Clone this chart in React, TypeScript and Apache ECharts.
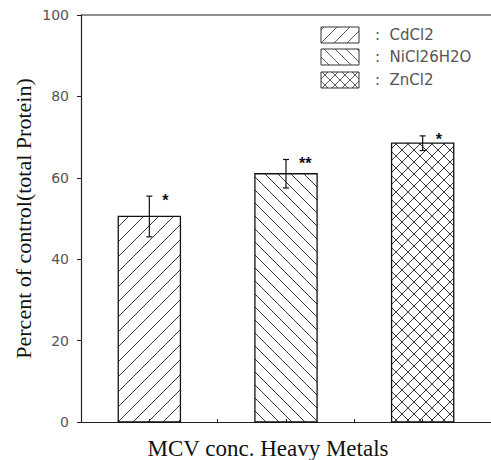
import React, { useEffect, useRef } from "react";
import * as echarts from "echarts";

const categories = ["CdCl2", "NiCl26H2O", "ZnCl2"];
const means = [50.5, 61, 68.5];
const errors = [5, 3.5, 1.8];
const stars = ["*", "**", "*"];
const patterns = ["/", "\\", "x"];
const yTicks = [0, 20, 40, 60, 80, 100];

const BAR_W = 0.455;

type Seg = { x1: number; y1: number; x2: number; y2: number };

function hatch(x0: number, y0: number, w: number, h: number, dir: string, s: number): Seg[] {
  const x1 = x0 + w;
  const y1 = y0 + h;
  const out: Seg[] = [];
  if (dir === "/" || dir === "x") {
    const cMin = Math.ceil((x0 + y0) / s) * s;
    for (let c = cMin; c <= x1 + y1; c += s) {
      const xa = Math.max(x0, c - y1);
      const xb = Math.min(x1, c - y0);
      if (xb - xa > 0.5) out.push({ x1: xa, y1: c - xa, x2: xb, y2: c - xb });
    }
  }
  if (dir === "\\" || dir === "x") {
    const cMin = Math.ceil((y0 - x1) / s) * s;
    for (let c = cMin; c <= y1 - x0; c += s) {
      const xa = Math.max(x0, y0 - c);
      const xb = Math.min(x1, y1 - c);
      if (xb - xa > 0.5) out.push({ x1: xa, y1: xa + c, x2: xb, y2: xb + c });
    }
  }
  return out;
}

function spacing(dir: string) {
  return dir === "x" ? 12 : dir === "/" ? 15 : 13;
}

export default function App() {
  const ref = useRef<HTMLDivElement>(null);
  useEffect(() => {
    if (!ref.current) return;
    const chart = echarts.init(ref.current, undefined, { renderer: "svg" });

    const data = categories.map((c, i) => [i, means[i], errors[i]]);

    const legendGraphics: any[] = [];
    const legX = 321, legW = 38, legH = 16;
    const legY = [27, 49, 72];
    categories.forEach((c, i) => {
      hatch(legX, legY[i], legW, legH, patterns[i], spacing(patterns[i]) - 2).forEach((sg) =>
        legendGraphics.push({ type: "line", shape: sg, style: { stroke: "#333", lineWidth: 0.8 } })
      );
      legendGraphics.push({
        type: "rect",
        shape: { x: legX, y: legY[i], width: legW, height: legH },
        style: { fill: "none", stroke: "#333", lineWidth: 1 },
      });
      legendGraphics.push({
        type: "text",
        x: 375,
        y: legY[i] + legH / 2,
        style: {
          text: ":  " + c,
          fill: "#555",
          font: "15px 'DejaVu Sans', sans-serif",
          textVerticalAlign: "middle",
        },
      });
    });

    chart.setOption({
      animation: false,
      grid: { left: 81, right: -4, top: 15, bottom: 38, containLabel: false },
      xAxis: {
        type: "value",
        min: -0.5,
        max: 2.5,
        interval: 0.5,
        axisLine: { show: true, onZero: false, lineStyle: { color: "#222", width: 1.2 } },
        axisTick: { show: true, inside: true, length: 3, lineStyle: { color: "#222" } },
        axisLabel: { show: false },
        splitLine: { show: false },
      },
      yAxis: {
        type: "value",
        min: 0,
        max: 100,
        interval: 20,
        name: "Percent of control(total Protein)",
        nameLocation: "middle",
        nameGap: 47,
        nameMoveOverlap: false,
        nameTextStyle: { fontFamily: "'Liberation Serif', serif", fontSize: 22, color: "#111" },
        axisLine: { show: true, onZero: false, lineStyle: { color: "#222", width: 1.2 } },
        axisTick: { show: true, length: 4, lineStyle: { color: "#222" } },
        axisLabel: {
          margin: 12,
          fontFamily: "'DejaVu Sans', sans-serif",
          fontSize: 14,
          color: "#555",
          formatter: (v: number) => (yTicks.includes(v) ? String(v) : ""),
        },
        splitLine: { show: false },
      },
      series: [
        {
          type: "custom",
          data,
          renderItem: (params: any, api: any) => {
            const i = params.dataIndex;
            const x = api.value(0);
            const v = api.value(1);
            const e = api.value(2);
            const base = api.coord([x, 0]);
            const top = api.coord([x, v]);
            const hi = api.coord([x, v + e]);
            const lo = api.coord([x, v - e]);
            const bw = api.size([BAR_W, 0])[0];
            const x0 = base[0] - bw / 2;
            const y0 = top[1];
            const h = base[1] - top[1];
            const children: any[] = [];
            hatch(x0, y0, bw, h, patterns[i], spacing(patterns[i])).forEach((sg) =>
              children.push({ type: "line", shape: sg, style: { stroke: "#222", lineWidth: 0.9 } })
            );
            children.push({
              type: "rect",
              shape: { x: x0, y: y0, width: bw, height: h },
              style: { fill: "none", stroke: "#111", lineWidth: 1.3 },
            });
            const cx = base[0];
            const cap = 3;
            children.push({ type: "line", shape: { x1: cx, y1: hi[1], x2: cx, y2: lo[1] }, style: { stroke: "#111", lineWidth: 1.2 } });
            children.push({ type: "line", shape: { x1: cx - cap, y1: hi[1], x2: cx + cap, y2: hi[1] }, style: { stroke: "#111", lineWidth: 1.2 } });
            children.push({ type: "line", shape: { x1: cx - cap, y1: lo[1], x2: cx + cap, y2: lo[1] }, style: { stroke: "#111", lineWidth: 1.2 } });
            children.push({
              type: "text",
              x: cx + 13,
              y: hi[1] + 4,
              style: {
                text: stars[i],
                fill: "#111",
                font: "bold 16px 'Liberation Sans', sans-serif",
                textVerticalAlign: "middle",
              },
            });
            return { type: "group", children };
          },
        },
      ],
      graphic: [
        { type: "line", shape: { x1: 81, y1: 15, x2: 491, y2: 15 }, style: { stroke: "#222", lineWidth: 1.2 } },
        ...legendGraphics,
        {
          type: "text",
          x: 268,
          y: 448,
          style: {
            text: "MCV conc. Heavy Metals",
            fill: "#111",
            font: "23px 'Liberation Serif', serif",
            textAlign: "center",
            textVerticalAlign: "middle",
          },
        },
      ],
    });
    return () => chart.dispose();
  }, []);
  return <div ref={ref} style={{ position: "absolute", left: 0, top: 0, width: 491, height: 460 }} />;
}
